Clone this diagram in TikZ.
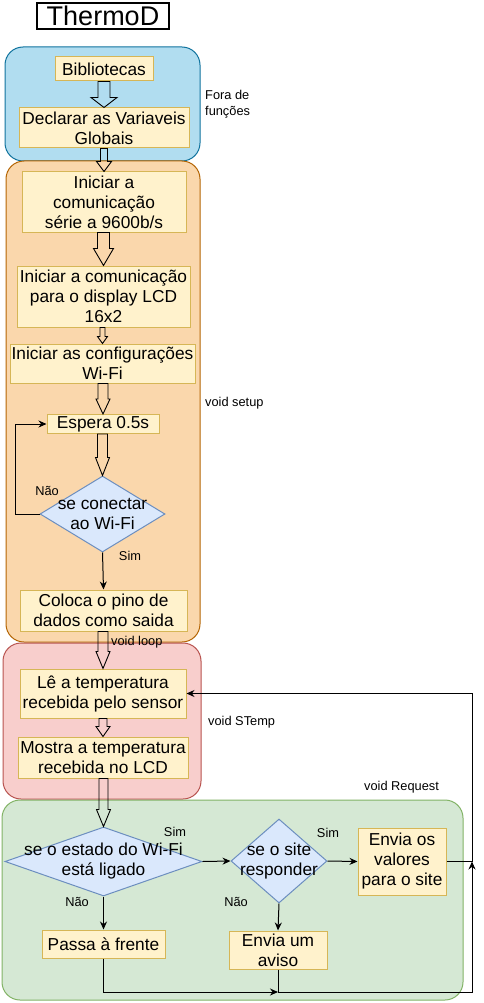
\documentclass[tikz,border=0pt]{standalone}
\usepackage{fontspec}
\setmainfont{Liberation Sans}
\usetikzlibrary{shapes.geometric,calc,arrows.meta}
\definecolor{blueF}{HTML}{B1DDF0}\definecolor{blueD}{HTML}{10739E}
\definecolor{oraF}{HTML}{FAD7AC}\definecolor{oraD}{HTML}{B46504}
\definecolor{redF}{HTML}{F8CECC}\definecolor{redD}{HTML}{B85450}
\definecolor{grnF}{HTML}{D5E8D4}\definecolor{grnD}{HTML}{82B366}
\definecolor{yelF}{HTML}{FFF2CC}\definecolor{yelD}{HTML}{D6B656}
\definecolor{diaF}{HTML}{DAE8FC}\definecolor{diaD}{HTML}{6C8EBF}
\newcommand\flexarr[5]{\draw[flex] let \p1=(#1), \p2=(#2) in
  (\x2-#3pt,\y1) -- (\x2-#3pt,\y2+#5pt) -- (\x2-#4pt,\y2+#5pt) -- (\x2,\y2)
  -- (\x2+#4pt,\y2+#5pt) -- (\x2+#3pt,\y2+#5pt) -- (\x2+#3pt,\y1) -- cycle;}
\tikzset{
 cont/.style={draw, line width=1pt, rounded corners=18pt, inner sep=0pt},
 box/.style={draw=yelD, fill=yelF, line width=1pt, inner sep=0pt, align=center,
   font=\fontsize{17.3}{20}\selectfont},
 dia/.style={diamond, draw=diaD, fill=diaF, line width=1pt, inner sep=0pt},
 dtext/.style={font=\fontsize{17.3}{20}\selectfont, align=center, inner sep=0pt},
 flex/.style={draw=black, line width=0.9pt, line join=miter},
 conn/.style={draw=black, line width=1pt, -{Stealth[length=8pt,width=7pt]}},
 plain/.style={draw=black, line width=1pt},
 small/.style={font=\fontsize{12.8}{16}\selectfont, inner sep=0pt, align=left},
}
\begin{document}
\begin{tikzpicture}[x=1pt,y=-1pt]
\useasboundingbox (0,0) rectangle (483,1003);
% title
\node[draw=black, line width=1.2pt, minimum width=132pt, minimum height=26pt, inner sep=0pt,
  font=\fontsize{27}{30}\selectfont] (title) at (103,16) {ThermoD};
% containers
\node[cont, draw=blueD, fill=blueF, minimum width=195pt, minimum height=114pt] (cblue) at (102.5,104) {};
\node[cont, draw=oraD, fill=oraF, minimum width=194pt, minimum height=481pt] (cora) at (103,401.5) {};
\node[cont, draw=redD, fill=redF, minimum width=198pt, minimum height=156pt] (cred) at (102,721) {};
\node[cont, draw=grnD, fill=grnF, minimum width=461pt, minimum height=200pt] (cgrn) at (232.5,900) {};
% blue boxes
\node[box, minimum width=98pt, minimum height=24pt] (bib) at (104,69) {Bibliotecas};
\node[box, minimum width=170pt, minimum height=40pt] (decl) at (104,128) {Declarar as Variaveis\\Globais};
% orange boxes
\node[box, minimum width=164pt, minimum height=60pt] (is) at (104,202) {Iniciar a\\comunicação\\série a 9600b/s};
\node[box, minimum width=173pt, minimum height=61pt] (lcd) at (103.5,296.5) {Iniciar a comunicação\\para o display LCD\\16x2};
\node[box, minimum width=185pt, minimum height=39pt] (wf) at (102.5,363.5) {Iniciar as configurações\\Wi-Fi};
\node[box, minimum width=112pt, minimum height=19pt] (esp) at (103,424) {Espera 0.5s};
\node[dia, minimum width=125pt, minimum height=76pt,
  label={[dtext]center:{se conectar\\ao Wi-Fi}}] (dc) at (102.5,514) {};
\node[box, minimum width=167pt, minimum height=41pt] (col) at (103.5,610.5) {Coloca o pino de\\dados como saida};
% red boxes
\node[box, minimum width=166pt, minimum height=49pt] (le) at (103,693.5) {Lê a temperatura\\recebida pelo sensor};
\node[box, minimum width=170pt, minimum height=41pt] (mo) at (103,757.5) {Mostra a temperatura\\recebida no LCD};
% green
\node[dia, minimum width=197pt, minimum height=69pt,
  label={[dtext]center:{se o estado do Wi-Fi\\está ligado}}] (da) at (103.5,861.5) {};
\node[dia, minimum width=96pt, minimum height=84pt,
  label={[dtext]center:{se o site\\responder}}] (db) at (279,861) {};
\node[box, minimum width=88pt, minimum height=67pt] (ev) at (402,861.5) {Envia os\\valores\\para o site};
\node[box, minimum width=123pt, minimum height=28pt] (pf) at (103.5,944) {Passa à frente};
\node[box, minimum width=98pt, minimum height=38pt] (ea) at (278,950) {Envia um\\aviso};
% labels
\node[small, anchor=west] (lfora) at (205,104) {Fora de\\funções};
\node[small, anchor=west] (lsetup) at (205,403) {void setup};
\node[small, anchor=west] (lloop) at (111,642) {void loop};
\node[small, anchor=west] (lstemp) at (208,722) {void STemp};
\node[small, anchor=west] (lreq) at (364,787) {void Request};
\node[small] (nao1) at (47,491) {Não};
\node[small] (sim1) at (130,556) {Sim};
\node[small] (sim2) at (175,832) {Sim};
\node[small] (nao2) at (77,902) {Não};
\node[small] (sim3) at (328,833) {Sim};
\node[small] (nao3) at (236,902) {Não};
% block arrows
\flexarr{bib.south}{decl.north}{6}{13}{10}
\flexarr{decl.south}{is.north}{3.5}{7.5}{10}
\flexarr{is.south}{lcd.north}{6}{10}{17}
\flexarr{lcd.south}{wf.north}{2.5}{5}{7}
\flexarr{wf.south}{esp.north}{5}{7}{15}
\flexarr{esp.south}{dc.north}{5}{7}{18}
\flexarr{col.south}{le.north}{5}{7}{17}
\flexarr{le.south}{mo.north}{4}{7}{10}
\flexarr{mo.south}{da.north}{4.5}{7}{17}
% connectors
\draw[conn] (dc.west) -- ++(-24,0) |- (esp.west);
\draw[conn] (dc.south) -- (col.north);
\draw[conn] (da.east) -- (db.west);
\draw[conn] (db.east) -- (ev.west);
\draw[conn] (da.south) -- (pf.north);
\draw[conn] (db.south) -- (ea.north);
\coordinate (jb) at (278,992);
\coordinate (jr) at (472,992);
\coordinate (jm) at (472,861.5);
\draw[conn] (pf.south) |- (jb);
\draw[conn] (ea.south) -- (jb) -- (jr) -- (jm);
\draw[conn] (ev.east) -- (jm) |- (le.east);
\end{tikzpicture}
\end{document}
